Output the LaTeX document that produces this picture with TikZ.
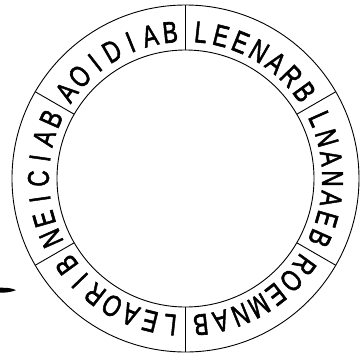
\documentclass[tikz,border=0pt]{standalone}
\usepackage{fontspec}
\newfontfamily\ringfont[FakeBold=2]{Liberation Sans}

\tikzset{
  ringline/.style={line width=0.9pt},
  letter/.style={inner sep=0pt, font=\ringfont\fontsize{30}{30}\selectfont}
}

% 在圆环上顺时针排一个字 (#1 中心角, #2 字母)
\newcommand\ringword[2]{%
  \foreach \ch [count=\k] in {#2}
    \node[letter, rotate={#1+3*\da-(\k-1)*\da-90}, xscale=0.75] (w#1-\k)
      at ({#1+3*\da-(\k-1)*\da}:\rmid) {\ch};%
}

\begin{document}
\begin{tikzpicture}[x=1pt, y=1pt]
    % 半径和字母间角度
    \def\ro{173.5}
    \def\ri{128.5}
    \def\rmid{147}
    \def\da{8}

    \useasboundingbox (-185.5,-181.5) rectangle (176.5,178.5);

    % 外圆与内圆
    \draw[ringline] (0,0) circle (\ro);
    \draw[ringline] (0,0) circle (\ri);

    % 分隔线
    \foreach \t in {30,90,...,330}
        \draw[ringline] (\t:\ri) -- (\t:\ro);

    % 六段文字
    \ringword{60}{L,E,E,N,A,R,B}
    \ringword{120}{A,O,I,D,I,A,B}
    \ringword{180}{N,E,I,C,I,A,B}
    \ringword{240}{L,E,A,O,R,I,B}
    \ringword{300}{R,O,E,M,N,A,B}
    \ringword{0}{L,N,A,N,A,E,B}

    % 左下角的黑色记号
    \fill (-185.5,-109.2) .. controls (-178,-109.3) .. (-173,-110.3)
        -- (-169.5,-111.6) -- (-173,-112.8)
        .. controls (-178,-114) .. (-185.5,-114.2) -- cycle;
\end{tikzpicture}
\end{document}
